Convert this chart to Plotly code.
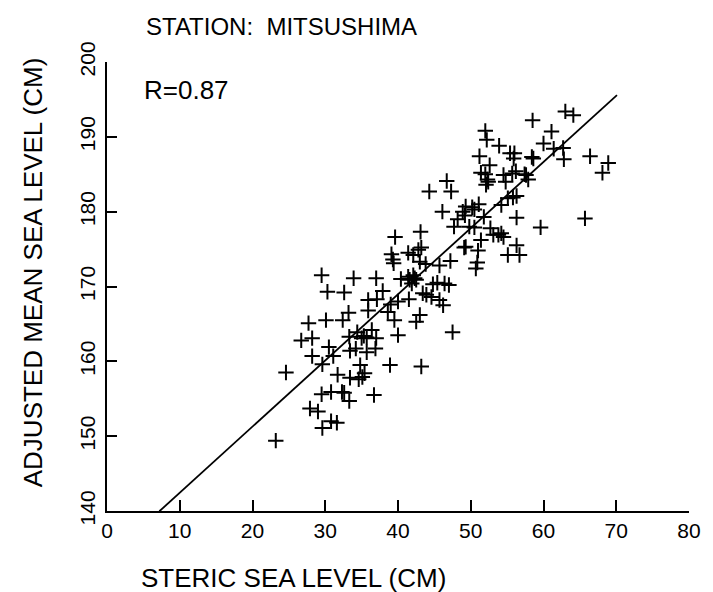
import plotly.graph_objects as go

# Steric sea level (cm) vs adjusted mean sea level (cm), station Mitsushima
steric = [
    39.6, 39.1, 39.3, 39.4, 41.4,
    29.5, 33.9, 37.0, 40.4, 41.4,
    30.3, 32.6, 37.9,
    35.9, 37.1, 39.0, 40.0, 41.5,
    35.9, 33.2, 38.6,
    27.7, 30.1, 32.4, 39.5,
    26.7, 28.2,
    33.3, 34.4, 35.3, 35.7, 36.4, 37.0, 35.0,
    40.0,
    30.5, 33.4, 34.2, 35.7, 36.9,
    28.2, 31.1, 29.6, 34.8, 38.9, 24.6, 31.7,
    33.4, 34.6, 35.1, 35.4,
    29.5, 30.8, 32.3, 32.6,
    33.3, 36.7,
    27.9, 29.0,
    30.8, 31.6,
    29.6, 23.2,
    52.0, 52.2, 53.9, 51.2, 52.6,
    55.4, 56.0, 55.9,
    51.4, 52.0, 52.3, 52.1, 52.4,
    54.5, 54.8, 55.7, 56.2, 57.4,
    46.7, 44.3, 47.3,
    49.3, 50.2, 50.5, 51.1, 49.2, 48.9,
    46.1,
    54.2, 55.1, 55.8, 56.3,
    48.2, 47.7, 51.8, 56.3,
    49.8, 50.5,
    52.7, 53.1, 54.2, 54.5, 53.8,
    43.1, 51.4, 49.1, 49.3,
    42.1, 42.8, 43.2,
    51.0, 56.3, 55.1, 56.7,
    43.0, 43.8, 45.7, 47.2,
    50.9, 50.7,
    42.1, 42.3, 42.5, 41.6, 41.9,
    44.8, 45.4, 46.4, 47.0,
    43.4, 43.9, 44.6, 45.7, 46.2,
    43.0, 42.5, 47.5, 43.2,
    58.5, 63.0, 64.1, 61.1, 60.0, 61.4, 62.7, 62.8, 58.4, 58.6,
    66.4, 68.9, 68.1, 57.6, 57.9, 65.7, 59.6,
]
adjusted = [
    176.6, 174.3, 173.6, 173.1, 174.5,
    171.5, 171.1, 171.1, 171.0, 171.3,
    169.3, 169.2, 169.4,
    168.2, 168.3, 167.6, 168.0, 168.3,
    166.8, 166.5, 166.6,
    165.1, 165.5, 165.5, 165.5,
    162.8, 163.1,
    163.3, 163.9, 163.4, 163.2, 164.2, 163.1, 163.1,
    163.5,
    161.9, 161.4, 161.7, 161.2, 161.7,
    160.7, 160.7, 159.6, 159.5, 159.5, 158.5, 158.2,
    157.8, 157.6, 157.9, 158.4,
    155.6, 155.9, 155.9, 155.8,
    154.7, 155.5,
    153.7, 153.3,
    152.0, 151.8,
    151.1, 149.4,
    190.8, 189.6, 188.8, 187.4, 186.2,
    187.8, 187.8, 187.1,
    185.2, 185.0, 184.3, 183.6, 184.0,
    184.9, 184.0, 185.1, 185.4, 185.0,
    184.1, 182.7, 182.7,
    180.7, 180.6, 180.3, 181.0, 179.5, 180.0,
    180.0,
    180.9, 181.8, 181.9, 182.1,
    179.0, 178.0, 179.3, 179.2,
    178.0, 177.9,
    177.8, 176.9, 177.1, 176.6, 176.9,
    177.3, 176.2, 175.2, 175.3,
    174.2, 174.9, 175.2,
    174.8, 175.5, 174.2, 174.2,
    173.3, 173.0, 172.8, 173.4,
    173.2, 172.4,
    171.5, 171.1, 170.9, 170.9, 170.4,
    170.3, 170.5, 170.4, 170.2,
    169.1, 168.9, 168.6, 168.2, 167.5,
    166.2, 165.3, 163.9, 159.3,
    192.2, 193.4, 192.9, 190.7, 189.1, 188.4, 188.5, 187.0, 187.3, 187.1,
    187.4, 186.5, 185.2, 184.9, 184.3, 179.1, 177.9,
]

# Least-squares line and its plotted extent
fit_intercept = 133.6
fit_slope = 0.884
fit_x = [7.2, 70.1]
fit_y = [fit_intercept + fit_slope * v for v in fit_x]

x_ticks = [0, 10, 20, 30, 40, 50, 60, 70, 80]
y_ticks = [140, 150, 160, 170, 180, 190, 200]

FONT = "Liberation Sans, Arial, sans-serif"

fig = go.Figure()
fig.add_trace(go.Scatter(
    x=fit_x, y=fit_y, mode="lines",
    line=dict(color="black", width=1.8),
    showlegend=False, hoverinfo="skip",
))
fig.add_trace(go.Scatter(
    x=steric, y=adjusted, mode="markers",
    marker=dict(symbol="cross-thin", size=11, color="black",
                line=dict(color="black", width=2)),
    showlegend=False,
))

fig.update_layout(
    width=713, height=592,
    margin=dict(l=107, r=14, t=62, b=81),
    paper_bgcolor="white", plot_bgcolor="white",
    font=dict(family=FONT, color="black", size=21),
    xaxis=dict(
        range=[0, 80], tickvals=x_ticks, ticktext=[str(v) for v in x_ticks],
        showline=True, linecolor="black", linewidth=2, mirror=False,
        ticks="inside", ticklen=11, tickwidth=1.6, tickcolor="black",
        showgrid=False, zeroline=False,
        tickfont=dict(family=FONT, size=21), ticklabelstandoff=0,
    ),
    yaxis=dict(
        range=[140, 200], tickvals=y_ticks, ticktext=[str(v) for v in y_ticks],
        showline=True, linecolor="black", linewidth=2, mirror=False,
        ticks="inside", ticklen=10, tickwidth=1.6, tickcolor="black",
        showgrid=False, zeroline=False, tickangle=-90,
        tickfont=dict(family=FONT, size=21), ticklabelstandoff=2,
    ),
    annotations=[
        dict(text="STATION:  MITSUSHIMA", xref="paper", yref="paper",
             x=(145 - 107) / 592, y=(511 - 26) / 449,
             xanchor="left", yanchor="middle",
             showarrow=False, font=dict(family=FONT, size=24)),
        dict(text="R=0.87", xref="paper", yref="paper",
             x=(143 - 107) / 592, y=(511 - 90) / 449,
             xanchor="left", yanchor="middle",
             showarrow=False, font=dict(family=FONT, size=26)),
        dict(text="STERIC SEA LEVEL (CM)", xref="paper", yref="paper",
             x=(140 - 107) / 592, y=(511 - 578) / 449,
             xanchor="left", yanchor="middle",
             showarrow=False, font=dict(family=FONT, size=26)),
        dict(text="ADJUSTED MEAN SEA LEVEL (CM)", xref="paper", yref="paper",
             x=(32 - 107) / 592, y=(511 - 272) / 449,
             xanchor="center", yanchor="middle",
             textangle=-90, showarrow=False, font=dict(family=FONT, size=26)),
    ],
)

fig.write_html("out.html")
